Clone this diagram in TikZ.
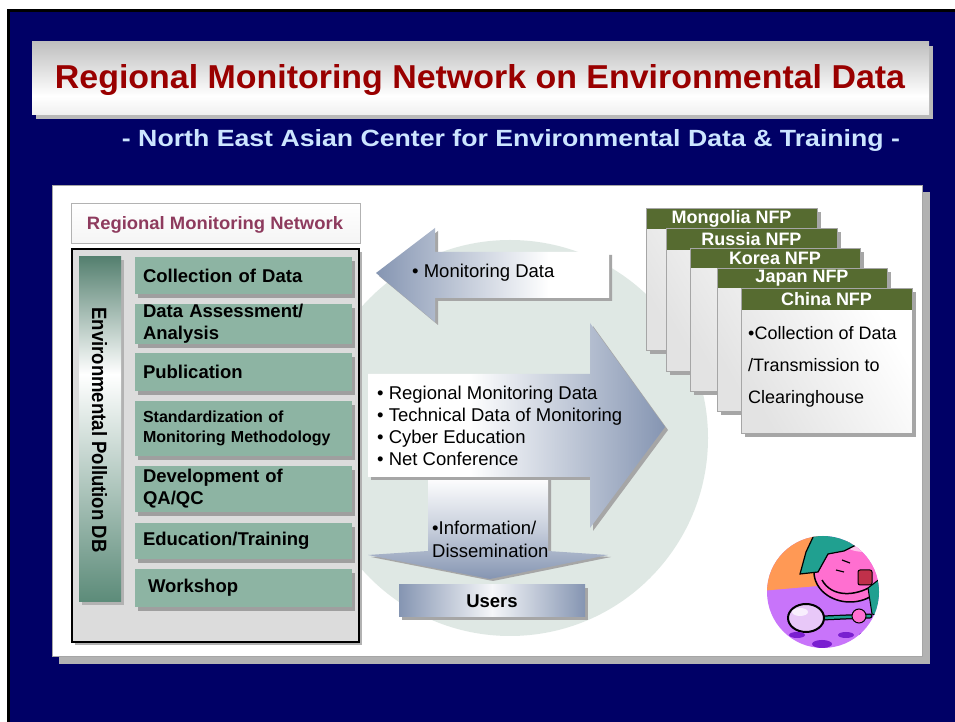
\documentclass[tikz,border=0pt]{standalone}
\usepackage{fontspec}
\setmainfont{Liberation Sans}
\usepackage{graphicx}
\usetikzlibrary{shadows}

\definecolor{navy}{HTML}{000066}
\definecolor{titlered}{HTML}{990000}
\definecolor{subblue}{HTML}{CCE5FF}
\definecolor{rmnred}{HTML}{8E3B5E}
\definecolor{boxgreen}{HTML}{8DB4A3}
\definecolor{bargreen}{HTML}{5C8B79}
\definecolor{arrowblue}{HTML}{8595B2}
\definecolor{nfpgreen}{HTML}{566B30}
\definecolor{disc}{HTML}{DFE8E4}
\definecolor{boxgray}{HTML}{DCDCDC}
\definecolor{shadowgray}{HTML}{A6A6A6}
\definecolor{corange}{HTML}{FF9955}
\definecolor{cpurple}{HTML}{C874FA}
\definecolor{cpink}{HTML}{FF6FD0}
\definecolor{cteal}{HTML}{20A090}
\definecolor{cred}{HTML}{C0304A}
\definecolor{clens}{HTML}{E8C8F8}
\definecolor{cspot}{HTML}{7A1FD0}

% shadings: the path covers the 25bp--75bp band
\pgfdeclareverticalshading{titlebar}{100bp}{color(0bp)=(gray!12); color(25bp)=(gray!12); color(38bp)=(white); color(75bp)=(gray!50); color(100bp)=(gray!50)}
\pgfdeclareverticalshading{dbbar}{100bp}{color(0bp)=(bargreen); color(25bp)=(bargreen); color(58bp)=(white); color(75bp)=(bargreen!92!black); color(100bp)=(bargreen!92!black)}
\pgfdeclarehorizontalshading{bigarrow}{100bp}{color(0bp)=(white); color(25bp)=(white); color(42bp)=(white); color(75bp)=(arrowblue); color(100bp)=(arrowblue)}
\pgfdeclarehorizontalshading{leftarrow}{100bp}{color(0bp)=(arrowblue); color(25bp)=(arrowblue); color(62bp)=(white); color(75bp)=(white); color(100bp)=(white)}
\pgfdeclarehorizontalshading{usersbar}{100bp}{color(0bp)=(arrowblue); color(25bp)=(arrowblue); color(50bp)=(white!92!arrowblue); color(75bp)=(arrowblue); color(100bp)=(arrowblue)}
\pgfdeclareverticalshading{cardbody}{100bp}{color(0bp)=(gray!22); color(25bp)=(gray!22); color(75bp)=(white); color(100bp)=(white)}

\tikzset{
  gbox/.style={fill=boxgreen, minimum width=217pt, text width=201pt, inner xsep=8pt,
    inner ysep=0pt, align=left, font=\fontsize{18.5}{22}\selectfont\bfseries,
    drop shadow={shadow xshift=3pt, shadow yshift=-4pt, fill=gray!75, opacity=1}},
  bodytext/.style={inner sep=0pt, align=left, font=\fontsize{18.5}{22}\selectfont},
  nfphead/.style={inner sep=0pt, text=white, font=\fontsize{18}{20}\selectfont\bfseries},
}

\newcommand{\nfpcard}[6]{%
  % #1 name, #2 left, #3 right, #4 top, #5 header bottom, #6 bottom
  \fill[shadowgray] (#2+4,#6-4) rectangle (#3+4,#4-4);
  \shade[shading=cardbody, shading angle=-60] (#2,#6) rectangle (#3,#5);
  \fill[nfpgreen] (#2,#5) rectangle (#3,#4);
  \draw[gray!70, line width=0.6pt] (#2,#6) rectangle (#3,#4);
}

\begin{document}
\begin{tikzpicture}[x=1pt,y=1pt]
\useasboundingbox (0,0) rectangle (955,722);
\fill[white] (0,0) rectangle (955,722);

% navy slide
\draw[line width=3pt, fill=navy] (8.5,-10) rectangle (970,711.5);

% title bar
\fill[gray!55] (36,603) rectangle (933,676);
\shade[shading=titlebar] (32,607) rectangle (929,680);
\node[inner sep=0pt, anchor=base, text=titlered] (title) at (480,633)
  {\resizebox{850pt}{24pt}{\bfseries Regional Monitoring Network on Environmental Data}};
\node[inner sep=0pt, anchor=base, text=subblue] (subtitle) at (511,575)
  {\resizebox{778pt}{17pt}{\bfseries - North East Asian Center for Environmental Data \& Training -}};

% white panel
\fill[gray!60] (59,58) rectangle (930,530);
\filldraw[fill=white, draw=gray!70, line width=0.6pt] (52,66) rectangle (922,537);

% background disc
\fill[disc] (510,284) circle (198);

% network label
\shade[top color=white, bottom color=gray!8, draw=gray!60, line width=0.8pt] (71,479) rectangle (360,519);
\node[inner sep=0pt, anchor=base, text=rmnred] (rmn) at (215,492)
  {\resizebox{256pt}{13pt}{\bfseries Regional Monitoring Network}};

% activity frame
\fill[gray!60] (75,77) rectangle (362,470);
\filldraw[fill=boxgray, draw=black, line width=1.2pt] (72,80) rectangle (359,473);

% database bar
\fill[gray!60] (82,117) rectangle (124,462);
\shade[shading=dbbar] (79,120) rectangle (121,465);
\node[inner sep=0pt, rotate=-90] (db) at (99.5,292)
  {\resizebox{245pt}{15pt}{\bfseries Environmental Pollution DB}};

% activities
\node[gbox, minimum height=37pt] (collect) at (243.5,446.5) {Collection of Data};
\node[gbox, minimum height=38pt] (assess) at (243.5,398) {Data Assessment/\\Analysis};
\node[gbox, minimum height=38pt] (publ) at (243.5,350) {Publication};
\node[gbox, minimum height=55pt, font=\fontsize{16}{20}\selectfont\bfseries] (stand) at (243.5,293.5)
  {Standardization of\\Monitoring Methodology};
\node[gbox, minimum height=46pt] (dev) at (243.5,233) {Development of\\QA/QC};
\node[gbox, minimum height=36pt] (edu) at (243.5,181) {Education/Training};
\node[gbox, minimum height=38pt, text width=191pt, inner xsep=13pt] (work) at (243.5,134) {Workshop};

% monitoring data arrow (pointing left)
\fill[shadowgray, shift={(3,-3)}] (376,449) -- (435,494) -- (435,470) -- (609,470) -- (609,424) -- (435,424) -- (435,400) -- cycle;
\shade[shading=leftarrow] (376,449) -- (435,494) -- (435,470) -- (609,470) -- (609,424) -- (435,424) -- (435,400) -- cycle;
\node[bodytext, anchor=west] (mdata) at (412,449) {• Monitoring Data};

% dissemination arrow (pointing down)
\fill[shadowgray, shift={(3,-2)}] (428,245) -- (548,245) -- (548,171) -- (608,167) -- (490,143) -- (368,167) -- (428,171) -- cycle;
\shade[top color=white, bottom color=arrowblue, middle color=white!55!arrowblue] (428,245) -- (548,245) -- (548,171) -- (608,167) -- (490,143) -- (368,167) -- (428,171) -- cycle;
\node[bodytext, align=left, font=\fontsize{18.5}{23}\selectfont, anchor=west] (info) at (432,182.5)
  {•Information/\\Dissemination};

% services arrow (pointing right)
\fill[shadowgray, shift={(3,-3)}] (368,348) -- (590,348) -- (590,399) -- (665,295) -- (590,194) -- (590,245) -- (368,245) -- cycle;
\shade[shading=bigarrow] (368,348) -- (590,348) -- (590,399) -- (665,295) -- (590,194) -- (590,245) -- (368,245) -- cycle;
\node[bodytext, anchor=west] (services) at (377,296)
  {• Regional Monitoring Data\\• Technical Data of Monitoring\\• Cyber Education\\• Net Conference};

% users
\fill[shadowgray] (402,102) rectangle (588,134);
\shade[shading=usersbar] (399,105) rectangle (585,137);
\node[inner sep=0pt, font=\fontsize{18.5}{22}\selectfont\bfseries] (users) at (492,121) {Users};

% national focal points
\nfpcard{mongolia}{646}{817}{514}{493}{372}
\node[nfphead] (mongolia) at (731.5,503) {Mongolia NFP};
\nfpcard{russia}{666}{837}{494}{472}{351}
\node[nfphead] (russia) at (751.5,483) {Russia NFP};
\nfpcard{korea}{690}{860}{474}{454}{331}
\node[nfphead] (korea) at (775,464) {Korea NFP};
\nfpcard{japan}{717}{887}{454}{434}{311}
\node[nfphead] (japan) at (802,444) {Japan NFP};
\nfpcard{china}{741}{912}{434}{412}{289}
\node[nfphead] (china) at (826.5,423) {China NFP};
\node[bodytext, font=\fontsize{18}{32}\selectfont, anchor=west] (chinatext) at (748,355)
  {•Collection of Data\\/Transmission to\\Clearinghouse};

% cartoon medallion
\begin{scope}
  \clip (823,130) circle (56);
  \fill[cpurple] (760,60) rectangle (890,200);
  \fill[corange] (760,131) -- (818,136) -- (818,200) -- (760,200) -- cycle;
  \filldraw[fill=cpink, draw=black, line width=1.5pt] (850,150) ellipse (36 and 30);
  \fill[white!60!cpink] (865,178) ellipse (20 and 8);
  \filldraw[fill=cteal, draw=black, line width=1.2pt]
    (800,148) -- (806,170) -- (814,187) -- (840,188) -- (862,180) -- (844,171) -- (828,168) -- (818,150) -- cycle;
  \draw[black, line width=1.5pt] (822,142) .. controls (832,124) and (856,126) .. (872,136);
  \draw[black, line width=1.2pt] (842,162) -- (850,159) (836,152) -- (844,150);
  \filldraw[fill=cred, draw=black, line width=1pt, rounded corners=2pt] (858,137) rectangle (872,152);
  \filldraw[fill=cteal, draw=black, line width=1pt] (868,134) -- (886,148) -- (886,104) -- (872,108) -- cycle;
  \draw[black, line width=5pt, line cap=round] (822,104) -- (870,106);
  \draw[cteal, line width=2.5pt, line cap=round] (822,104) -- (870,106);
  \filldraw[fill=clens, draw=black, line width=2pt] (806,104) ellipse (18 and 14);
  \fill[white!70!clens] (800,110) ellipse (8 and 4);
  \filldraw[fill=cpink, draw=black, line width=1pt] (859,106) circle (7);
  \fill[cspot] (797,87) ellipse (8 and 3) (822,78) ellipse (10 and 4) (846,87) ellipse (8 and 3) (866,87) ellipse (7 and 3);
\end{scope}
\end{tikzpicture}
\end{document}
